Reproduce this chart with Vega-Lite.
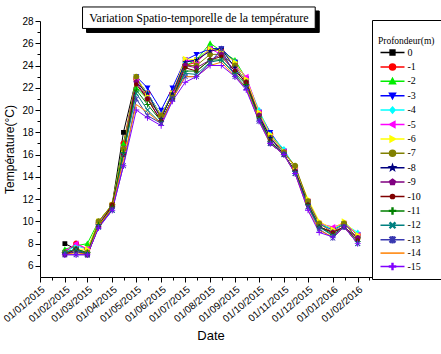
{
"$schema": "https://vega.github.io/schema/vega-lite/v6.json",
"width": 341, "height": 256,
"autosize": {"type": "none"},
"padding": {"left": 40, "top": 21, "right": 60, "bottom": 77},
"background": "white",
"config": {
  "view": {"stroke": null},
  "axis": {"grid": false, "domainColor": "black", "tickColor": "black", "labelColor": "black", "titleColor": "black", "labelFont": "Liberation Sans", "titleFont": "Liberation Sans", "titleFontWeight": "normal"},
  "legend": {"orient": "none", "legendX": 332, "legendY": -1, "padding": 6, "strokeColor": "black", "fillColor": "white",
          "titleFont": "Liberation Serif", "titleFontSize": 9.5, "titleFontWeight": "normal", "titleLineHeight": 10, "titlePadding": 2, "titleColor": "black",
          "labelFont": "Liberation Serif", "labelFontSize": 10, "labelColor": "black", "rowPadding": 2.4, "symbolOffset": 9.5, "labelOffset": 10, "symbolSize": 36}
},
"data": {"values": [
{"d":"2015-02-01","p":"0","t":8.0},{"d":"2015-02-01","p":"-1","t":7.2},{"d":"2015-02-01","p":"-2","t":7.5},{"d":"2015-02-01","p":"-3","t":7.0},{"d":"2015-02-01","p":"-4","t":7.2},{"d":"2015-02-01","p":"-5","t":7.3},{"d":"2015-02-01","p":"-6","t":7.2},{"d":"2015-02-01","p":"-7","t":7.2},{"d":"2015-02-01","p":"-8","t":7.0},{"d":"2015-02-01","p":"-9","t":7.0},{"d":"2015-02-01","p":"-10","t":7.0},{"d":"2015-02-01","p":"-11","t":7.2},{"d":"2015-02-01","p":"-12","t":7.2},{"d":"2015-02-01","p":"-13","t":7.0},{"d":"2015-02-01","p":"-14","t":7.0},{"d":"2015-02-01","p":"-15","t":7.0},
{"d":"2015-02-15","p":"0","t":7.5},{"d":"2015-02-15","p":"-1","t":8.0},{"d":"2015-02-15","p":"-2","t":7.8},{"d":"2015-02-15","p":"-3","t":7.5},{"d":"2015-02-15","p":"-4","t":7.8},{"d":"2015-02-15","p":"-5","t":8.0},{"d":"2015-02-15","p":"-6","t":7.5},{"d":"2015-02-15","p":"-7","t":7.5},{"d":"2015-02-15","p":"-8","t":7.3},{"d":"2015-02-15","p":"-9","t":7.5},{"d":"2015-02-15","p":"-10","t":7.5},{"d":"2015-02-15","p":"-11","t":7.5},{"d":"2015-02-15","p":"-12","t":7.5},{"d":"2015-02-15","p":"-13","t":7.0},{"d":"2015-02-15","p":"-14","t":7.2},{"d":"2015-02-15","p":"-15","t":7.0},
{"d":"2015-03-01","p":"0","t":7.0},{"d":"2015-03-01","p":"-1","t":7.5},{"d":"2015-03-01","p":"-2","t":8.0},{"d":"2015-03-01","p":"-3","t":7.0},{"d":"2015-03-01","p":"-4","t":7.5},{"d":"2015-03-01","p":"-5","t":7.5},{"d":"2015-03-01","p":"-6","t":7.5},{"d":"2015-03-01","p":"-7","t":7.2},{"d":"2015-03-01","p":"-8","t":7.0},{"d":"2015-03-01","p":"-9","t":7.0},{"d":"2015-03-01","p":"-10","t":7.0},{"d":"2015-03-01","p":"-11","t":7.2},{"d":"2015-03-01","p":"-12","t":7.0},{"d":"2015-03-01","p":"-13","t":7.0},{"d":"2015-03-01","p":"-14","t":7.0},{"d":"2015-03-01","p":"-15","t":7.0},
{"d":"2015-03-15","p":"0","t":9.8},{"d":"2015-03-15","p":"-1","t":9.8},{"d":"2015-03-15","p":"-2","t":10.0},{"d":"2015-03-15","p":"-3","t":9.7},{"d":"2015-03-15","p":"-4","t":9.8},{"d":"2015-03-15","p":"-5","t":9.8},{"d":"2015-03-15","p":"-6","t":10.0},{"d":"2015-03-15","p":"-7","t":10.0},{"d":"2015-03-15","p":"-8","t":9.5},{"d":"2015-03-15","p":"-9","t":9.5},{"d":"2015-03-15","p":"-10","t":9.6},{"d":"2015-03-15","p":"-11","t":9.7},{"d":"2015-03-15","p":"-12","t":9.5},{"d":"2015-03-15","p":"-13","t":9.5},{"d":"2015-03-15","p":"-14","t":9.6},{"d":"2015-03-15","p":"-15","t":9.4},
{"d":"2015-04-01","p":"0","t":11.5},{"d":"2015-04-01","p":"-1","t":11.5},{"d":"2015-04-01","p":"-2","t":11.5},{"d":"2015-04-01","p":"-3","t":11.3},{"d":"2015-04-01","p":"-4","t":11.4},{"d":"2015-04-01","p":"-5","t":11.4},{"d":"2015-04-01","p":"-6","t":11.5},{"d":"2015-04-01","p":"-7","t":11.5},{"d":"2015-04-01","p":"-8","t":11.2},{"d":"2015-04-01","p":"-9","t":11.3},{"d":"2015-04-01","p":"-10","t":11.5},{"d":"2015-04-01","p":"-11","t":11.3},{"d":"2015-04-01","p":"-12","t":11.0},{"d":"2015-04-01","p":"-13","t":11.0},{"d":"2015-04-01","p":"-14","t":11.2},{"d":"2015-04-01","p":"-15","t":11.0},
{"d":"2015-04-15","p":"0","t":18.0},{"d":"2015-04-15","p":"-1","t":17.0},{"d":"2015-04-15","p":"-2","t":17.0},{"d":"2015-04-15","p":"-3","t":16.5},{"d":"2015-04-15","p":"-4","t":16.5},{"d":"2015-04-15","p":"-5","t":16.5},{"d":"2015-04-15","p":"-6","t":16.5},{"d":"2015-04-15","p":"-7","t":16.5},{"d":"2015-04-15","p":"-8","t":16.0},{"d":"2015-04-15","p":"-9","t":16.0},{"d":"2015-04-15","p":"-10","t":16.0},{"d":"2015-04-15","p":"-11","t":16.2},{"d":"2015-04-15","p":"-12","t":16.0},{"d":"2015-04-15","p":"-13","t":15.0},{"d":"2015-04-15","p":"-14","t":15.5},{"d":"2015-04-15","p":"-15","t":15.0},
{"d":"2015-05-01","p":"0","t":22.8},{"d":"2015-05-01","p":"-1","t":22.8},{"d":"2015-05-01","p":"-2","t":22.0},{"d":"2015-05-01","p":"-3","t":23.0},{"d":"2015-05-01","p":"-4","t":22.8},{"d":"2015-05-01","p":"-5","t":22.8},{"d":"2015-05-01","p":"-6","t":23.0},{"d":"2015-05-01","p":"-7","t":23.0},{"d":"2015-05-01","p":"-8","t":22.5},{"d":"2015-05-01","p":"-9","t":22.5},{"d":"2015-05-01","p":"-10","t":22.3},{"d":"2015-05-01","p":"-11","t":21.8},{"d":"2015-05-01","p":"-12","t":21.5},{"d":"2015-05-01","p":"-13","t":21.0},{"d":"2015-05-01","p":"-14","t":20.5},{"d":"2015-05-01","p":"-15","t":20.0},
{"d":"2015-05-15","p":"0","t":21.5},{"d":"2015-05-15","p":"-1","t":21.5},{"d":"2015-05-15","p":"-2","t":21.0},{"d":"2015-05-15","p":"-3","t":22.0},{"d":"2015-05-15","p":"-4","t":21.5},{"d":"2015-05-15","p":"-5","t":21.3},{"d":"2015-05-15","p":"-6","t":21.3},{"d":"2015-05-15","p":"-7","t":21.0},{"d":"2015-05-15","p":"-8","t":21.5},{"d":"2015-05-15","p":"-9","t":21.0},{"d":"2015-05-15","p":"-10","t":21.0},{"d":"2015-05-15","p":"-11","t":20.5},{"d":"2015-05-15","p":"-12","t":20.0},{"d":"2015-05-15","p":"-13","t":19.5},{"d":"2015-05-15","p":"-14","t":19.8},{"d":"2015-05-15","p":"-15","t":19.3},
{"d":"2015-06-01","p":"0","t":19.5},{"d":"2015-06-01","p":"-1","t":19.5},{"d":"2015-06-01","p":"-2","t":19.5},{"d":"2015-06-01","p":"-3","t":20.0},{"d":"2015-06-01","p":"-4","t":19.5},{"d":"2015-06-01","p":"-5","t":19.3},{"d":"2015-06-01","p":"-6","t":19.5},{"d":"2015-06-01","p":"-7","t":19.5},{"d":"2015-06-01","p":"-8","t":19.2},{"d":"2015-06-01","p":"-9","t":19.0},{"d":"2015-06-01","p":"-10","t":19.0},{"d":"2015-06-01","p":"-11","t":19.0},{"d":"2015-06-01","p":"-12","t":18.8},{"d":"2015-06-01","p":"-13","t":18.8},{"d":"2015-06-01","p":"-14","t":18.8},{"d":"2015-06-01","p":"-15","t":18.6},
{"d":"2015-06-15","p":"0","t":21.5},{"d":"2015-06-15","p":"-1","t":21.5},{"d":"2015-06-15","p":"-2","t":21.5},{"d":"2015-06-15","p":"-3","t":22.0},{"d":"2015-06-15","p":"-4","t":21.5},{"d":"2015-06-15","p":"-5","t":21.5},{"d":"2015-06-15","p":"-6","t":21.5},{"d":"2015-06-15","p":"-7","t":21.3},{"d":"2015-06-15","p":"-8","t":21.5},{"d":"2015-06-15","p":"-9","t":21.0},{"d":"2015-06-15","p":"-10","t":21.0},{"d":"2015-06-15","p":"-11","t":21.0},{"d":"2015-06-15","p":"-12","t":21.0},{"d":"2015-06-15","p":"-13","t":21.0},{"d":"2015-06-15","p":"-14","t":21.0},{"d":"2015-06-15","p":"-15","t":20.8},
{"d":"2015-07-01","p":"0","t":24.3},{"d":"2015-07-01","p":"-1","t":24.0},{"d":"2015-07-01","p":"-2","t":24.0},{"d":"2015-07-01","p":"-3","t":24.5},{"d":"2015-07-01","p":"-4","t":24.3},{"d":"2015-07-01","p":"-5","t":24.5},{"d":"2015-07-01","p":"-6","t":24.6},{"d":"2015-07-01","p":"-7","t":24.0},{"d":"2015-07-01","p":"-8","t":24.3},{"d":"2015-07-01","p":"-9","t":24.0},{"d":"2015-07-01","p":"-10","t":23.8},{"d":"2015-07-01","p":"-11","t":23.5},{"d":"2015-07-01","p":"-12","t":23.3},{"d":"2015-07-01","p":"-13","t":23.0},{"d":"2015-07-01","p":"-14","t":23.0},{"d":"2015-07-01","p":"-15","t":22.5},
{"d":"2015-07-15","p":"0","t":24.5},{"d":"2015-07-15","p":"-1","t":24.3},{"d":"2015-07-15","p":"-2","t":24.5},{"d":"2015-07-15","p":"-3","t":25.0},{"d":"2015-07-15","p":"-4","t":24.5},{"d":"2015-07-15","p":"-5","t":24.3},{"d":"2015-07-15","p":"-6","t":24.5},{"d":"2015-07-15","p":"-7","t":24.0},{"d":"2015-07-15","p":"-8","t":24.5},{"d":"2015-07-15","p":"-9","t":23.8},{"d":"2015-07-15","p":"-10","t":23.5},{"d":"2015-07-15","p":"-11","t":23.5},{"d":"2015-07-15","p":"-12","t":23.2},{"d":"2015-07-15","p":"-13","t":23.0},{"d":"2015-07-15","p":"-14","t":23.0},{"d":"2015-07-15","p":"-15","t":23.0},
{"d":"2015-08-01","p":"0","t":25.5},{"d":"2015-08-01","p":"-1","t":25.5},{"d":"2015-08-01","p":"-2","t":26.0},{"d":"2015-08-01","p":"-3","t":25.5},{"d":"2015-08-01","p":"-4","t":25.5},{"d":"2015-08-01","p":"-5","t":25.5},{"d":"2015-08-01","p":"-6","t":25.5},{"d":"2015-08-01","p":"-7","t":25.0},{"d":"2015-08-01","p":"-8","t":25.3},{"d":"2015-08-01","p":"-9","t":24.5},{"d":"2015-08-01","p":"-10","t":24.5},{"d":"2015-08-01","p":"-11","t":24.5},{"d":"2015-08-01","p":"-12","t":24.3},{"d":"2015-08-01","p":"-13","t":24.2},{"d":"2015-08-01","p":"-14","t":24.0},{"d":"2015-08-01","p":"-15","t":24.0},
{"d":"2015-08-15","p":"0","t":25.5},{"d":"2015-08-15","p":"-1","t":25.3},{"d":"2015-08-15","p":"-2","t":25.3},{"d":"2015-08-15","p":"-3","t":25.5},{"d":"2015-08-15","p":"-4","t":25.3},{"d":"2015-08-15","p":"-5","t":25.0},{"d":"2015-08-15","p":"-6","t":25.3},{"d":"2015-08-15","p":"-7","t":25.0},{"d":"2015-08-15","p":"-8","t":25.5},{"d":"2015-08-15","p":"-9","t":25.0},{"d":"2015-08-15","p":"-10","t":24.8},{"d":"2015-08-15","p":"-11","t":24.5},{"d":"2015-08-15","p":"-12","t":24.5},{"d":"2015-08-15","p":"-13","t":25.5},{"d":"2015-08-15","p":"-14","t":24.3},{"d":"2015-08-15","p":"-15","t":24.0},
{"d":"2015-09-01","p":"0","t":24.3},{"d":"2015-09-01","p":"-1","t":24.3},{"d":"2015-09-01","p":"-2","t":24.5},{"d":"2015-09-01","p":"-3","t":24.3},{"d":"2015-09-01","p":"-4","t":24.3},{"d":"2015-09-01","p":"-5","t":24.0},{"d":"2015-09-01","p":"-6","t":24.3},{"d":"2015-09-01","p":"-7","t":24.0},{"d":"2015-09-01","p":"-8","t":23.8},{"d":"2015-09-01","p":"-9","t":23.5},{"d":"2015-09-01","p":"-10","t":23.5},{"d":"2015-09-01","p":"-11","t":23.3},{"d":"2015-09-01","p":"-12","t":23.2},{"d":"2015-09-01","p":"-13","t":23.0},{"d":"2015-09-01","p":"-14","t":23.0},{"d":"2015-09-01","p":"-15","t":23.0},
{"d":"2015-09-15","p":"0","t":22.8},{"d":"2015-09-15","p":"-1","t":22.8},{"d":"2015-09-15","p":"-2","t":22.8},{"d":"2015-09-15","p":"-3","t":22.8},{"d":"2015-09-15","p":"-4","t":22.8},{"d":"2015-09-15","p":"-5","t":23.0},{"d":"2015-09-15","p":"-6","t":22.8},{"d":"2015-09-15","p":"-7","t":22.5},{"d":"2015-09-15","p":"-8","t":22.3},{"d":"2015-09-15","p":"-9","t":22.5},{"d":"2015-09-15","p":"-10","t":22.5},{"d":"2015-09-15","p":"-11","t":22.3},{"d":"2015-09-15","p":"-12","t":22.0},{"d":"2015-09-15","p":"-13","t":22.0},{"d":"2015-09-15","p":"-14","t":22.0},{"d":"2015-09-15","p":"-15","t":21.8},
{"d":"2015-10-01","p":"0","t":19.8},{"d":"2015-10-01","p":"-1","t":19.8},{"d":"2015-10-01","p":"-2","t":19.8},{"d":"2015-10-01","p":"-3","t":19.8},{"d":"2015-10-01","p":"-4","t":20.0},{"d":"2015-10-01","p":"-5","t":19.8},{"d":"2015-10-01","p":"-6","t":19.8},{"d":"2015-10-01","p":"-7","t":19.5},{"d":"2015-10-01","p":"-8","t":19.5},{"d":"2015-10-01","p":"-9","t":19.5},{"d":"2015-10-01","p":"-10","t":19.3},{"d":"2015-10-01","p":"-11","t":19.3},{"d":"2015-10-01","p":"-12","t":19.2},{"d":"2015-10-01","p":"-13","t":19.0},{"d":"2015-10-01","p":"-14","t":19.0},{"d":"2015-10-01","p":"-15","t":19.0},
{"d":"2015-10-15","p":"0","t":17.8},{"d":"2015-10-15","p":"-1","t":17.8},{"d":"2015-10-15","p":"-2","t":17.8},{"d":"2015-10-15","p":"-3","t":18.0},{"d":"2015-10-15","p":"-4","t":17.8},{"d":"2015-10-15","p":"-5","t":17.5},{"d":"2015-10-15","p":"-6","t":17.8},{"d":"2015-10-15","p":"-7","t":17.5},{"d":"2015-10-15","p":"-8","t":17.5},{"d":"2015-10-15","p":"-9","t":17.0},{"d":"2015-10-15","p":"-10","t":17.2},{"d":"2015-10-15","p":"-11","t":17.2},{"d":"2015-10-15","p":"-12","t":17.0},{"d":"2015-10-15","p":"-13","t":17.0},{"d":"2015-10-15","p":"-14","t":17.0},{"d":"2015-10-15","p":"-15","t":17.0},
{"d":"2015-11-01","p":"0","t":16.3},{"d":"2015-11-01","p":"-1","t":16.3},{"d":"2015-11-01","p":"-2","t":16.3},{"d":"2015-11-01","p":"-3","t":16.3},{"d":"2015-11-01","p":"-4","t":16.5},{"d":"2015-11-01","p":"-5","t":16.3},{"d":"2015-11-01","p":"-6","t":16.3},{"d":"2015-11-01","p":"-7","t":16.2},{"d":"2015-11-01","p":"-8","t":16.0},{"d":"2015-11-01","p":"-9","t":16.0},{"d":"2015-11-01","p":"-10","t":16.0},{"d":"2015-11-01","p":"-11","t":16.0},{"d":"2015-11-01","p":"-12","t":16.0},{"d":"2015-11-01","p":"-13","t":16.0},{"d":"2015-11-01","p":"-14","t":16.0},{"d":"2015-11-01","p":"-15","t":16.0},
{"d":"2015-11-15","p":"0","t":14.8},{"d":"2015-11-15","p":"-1","t":14.8},{"d":"2015-11-15","p":"-2","t":14.8},{"d":"2015-11-15","p":"-3","t":14.8},{"d":"2015-11-15","p":"-4","t":14.8},{"d":"2015-11-15","p":"-5","t":14.8},{"d":"2015-11-15","p":"-6","t":14.8},{"d":"2015-11-15","p":"-7","t":15.0},{"d":"2015-11-15","p":"-8","t":14.5},{"d":"2015-11-15","p":"-9","t":14.5},{"d":"2015-11-15","p":"-10","t":14.5},{"d":"2015-11-15","p":"-11","t":14.5},{"d":"2015-11-15","p":"-12","t":14.3},{"d":"2015-11-15","p":"-13","t":14.3},{"d":"2015-11-15","p":"-14","t":14.3},{"d":"2015-11-15","p":"-15","t":14.3},
{"d":"2015-12-01","p":"0","t":11.8},{"d":"2015-12-01","p":"-1","t":11.8},{"d":"2015-12-01","p":"-2","t":11.8},{"d":"2015-12-01","p":"-3","t":11.8},{"d":"2015-12-01","p":"-4","t":11.8},{"d":"2015-12-01","p":"-5","t":11.8},{"d":"2015-12-01","p":"-6","t":12.0},{"d":"2015-12-01","p":"-7","t":11.8},{"d":"2015-12-01","p":"-8","t":11.5},{"d":"2015-12-01","p":"-9","t":11.5},{"d":"2015-12-01","p":"-10","t":11.5},{"d":"2015-12-01","p":"-11","t":11.5},{"d":"2015-12-01","p":"-12","t":11.3},{"d":"2015-12-01","p":"-13","t":11.3},{"d":"2015-12-01","p":"-14","t":11.0},{"d":"2015-12-01","p":"-15","t":11.0},
{"d":"2015-12-15","p":"0","t":9.8},{"d":"2015-12-15","p":"-1","t":9.8},{"d":"2015-12-15","p":"-2","t":9.8},{"d":"2015-12-15","p":"-3","t":9.8},{"d":"2015-12-15","p":"-4","t":9.8},{"d":"2015-12-15","p":"-5","t":9.8},{"d":"2015-12-15","p":"-6","t":10.0},{"d":"2015-12-15","p":"-7","t":9.8},{"d":"2015-12-15","p":"-8","t":9.5},{"d":"2015-12-15","p":"-9","t":9.5},{"d":"2015-12-15","p":"-10","t":9.5},{"d":"2015-12-15","p":"-11","t":9.5},{"d":"2015-12-15","p":"-12","t":9.5},{"d":"2015-12-15","p":"-13","t":9.3},{"d":"2015-12-15","p":"-14","t":9.2},{"d":"2015-12-15","p":"-15","t":9.0},
{"d":"2016-01-01","p":"0","t":9.3},{"d":"2016-01-01","p":"-1","t":9.3},{"d":"2016-01-01","p":"-2","t":9.3},{"d":"2016-01-01","p":"-3","t":9.2},{"d":"2016-01-01","p":"-4","t":9.3},{"d":"2016-01-01","p":"-5","t":9.5},{"d":"2016-01-01","p":"-6","t":9.3},{"d":"2016-01-01","p":"-7","t":9.0},{"d":"2016-01-01","p":"-8","t":9.0},{"d":"2016-01-01","p":"-9","t":9.0},{"d":"2016-01-01","p":"-10","t":9.0},{"d":"2016-01-01","p":"-11","t":8.8},{"d":"2016-01-01","p":"-12","t":8.7},{"d":"2016-01-01","p":"-13","t":8.5},{"d":"2016-01-01","p":"-14","t":8.6},{"d":"2016-01-01","p":"-15","t":8.6},
{"d":"2016-01-15","p":"0","t":9.8},{"d":"2016-01-15","p":"-1","t":9.8},{"d":"2016-01-15","p":"-2","t":9.8},{"d":"2016-01-15","p":"-3","t":9.8},{"d":"2016-01-15","p":"-4","t":9.8},{"d":"2016-01-15","p":"-5","t":9.8},{"d":"2016-01-15","p":"-6","t":10.0},{"d":"2016-01-15","p":"-7","t":9.8},{"d":"2016-01-15","p":"-8","t":9.5},{"d":"2016-01-15","p":"-9","t":9.5},{"d":"2016-01-15","p":"-10","t":9.5},{"d":"2016-01-15","p":"-11","t":9.5},{"d":"2016-01-15","p":"-12","t":9.5},{"d":"2016-01-15","p":"-13","t":9.5},{"d":"2016-01-15","p":"-14","t":9.5},{"d":"2016-01-15","p":"-15","t":9.5},
{"d":"2016-02-01","p":"0","t":8.8},{"d":"2016-02-01","p":"-1","t":8.8},{"d":"2016-02-01","p":"-2","t":8.8},{"d":"2016-02-01","p":"-3","t":8.8},{"d":"2016-02-01","p":"-4","t":9.0},{"d":"2016-02-01","p":"-5","t":8.8},{"d":"2016-02-01","p":"-6","t":8.8},{"d":"2016-02-01","p":"-7","t":8.5},{"d":"2016-02-01","p":"-8","t":8.5},{"d":"2016-02-01","p":"-9","t":8.5},{"d":"2016-02-01","p":"-10","t":8.3},{"d":"2016-02-01","p":"-11","t":8.2},{"d":"2016-02-01","p":"-12","t":8.0},{"d":"2016-02-01","p":"-13","t":8.0},{"d":"2016-02-01","p":"-14","t":8.0},{"d":"2016-02-01","p":"-15","t":8.0}
]},
"layer": [
  {
    "mark": {"type": "line", "strokeWidth": 1},
    "encoding": {
      "x": {"field": "d", "type": "temporal",
        "scale": {"type": "utc", "domain": [{"year":2015,"month":1,"date":1,"utc":true},{"year":2016,"month":3,"date":1,"utc":true}], "nice": false},
        "axis": {"title": "Date", "titleFontSize": 13, "titlePadding": 6, "format": "%d/%m/%Y", "labelAngle": -40, "labelFontSize": 10, "labelOverlap": false, "labelPadding": 2, "tickSize": 5, "labelFlush": false,
          "values": [{"year":2015,"month":1,"date":1,"utc":true},{"year":2015,"month":2,"date":1,"utc":true},{"year":2015,"month":3,"date":1,"utc":true},{"year":2015,"month":4,"date":1,"utc":true},{"year":2015,"month":5,"date":1,"utc":true},{"year":2015,"month":6,"date":1,"utc":true},{"year":2015,"month":7,"date":1,"utc":true},{"year":2015,"month":8,"date":1,"utc":true},{"year":2015,"month":9,"date":1,"utc":true},{"year":2015,"month":10,"date":1,"utc":true},{"year":2015,"month":11,"date":1,"utc":true},{"year":2015,"month":12,"date":1,"utc":true},{"year":2016,"month":1,"date":1,"utc":true},{"year":2016,"month":2,"date":1,"utc":true}]}},
      "y": {"field": "t", "type": "quantitative",
        "scale": {"domain": [5, 28], "nice": false, "zero": false},
        "axis": {"title": "Température(°C)", "titleFontSize": 12, "titlePadding": 5, "labelFontSize": 10, "tickSize": 5, "labelPadding": 2, "values": [6,8,10,12,14,16,18,20,22,24,26,28]}},
      "color": {"field": "p", "type": "nominal", "title": ["", "Profondeur(m)"],
        "scale": {"domain": ["0","-1","-2","-3","-4","-5","-6","-7","-8","-9","-10","-11","-12","-13","-14","-15"],
                  "range": ["#000000","#FF0000","#00EE00","#0000FF","#00FFFF","#FF00FF","#FFFF00","#808000","#000080","#800080","#800000","#008000","#008080","#3838B0","#FF8000","#8000FF"]},
        "legend": {"labelFont": "Liberation Serif", "titleFont": "Liberation Serif"}}
    }
  },
  {
    "mark": {"type": "point", "filled": true, "size": 36, "opacity": 1},
    "encoding": {
      "x": {"field": "d", "type": "temporal",
        "axis": {"title": null, "labels": false, "domain": false, "tickSize": 3, "orient": "bottom",
          "values": [{"year":2015,"month":1,"date":16,"utc":true},{"year":2015,"month":2,"date":15,"utc":true},{"year":2015,"month":3,"date":16,"utc":true},{"year":2015,"month":4,"date":16,"utc":true},{"year":2015,"month":5,"date":16,"utc":true},{"year":2015,"month":6,"date":16,"utc":true},{"year":2015,"month":7,"date":16,"utc":true},{"year":2015,"month":8,"date":16,"utc":true},{"year":2015,"month":9,"date":16,"utc":true},{"year":2015,"month":10,"date":16,"utc":true},{"year":2015,"month":11,"date":16,"utc":true},{"year":2015,"month":12,"date":16,"utc":true},{"year":2016,"month":1,"date":16,"utc":true},{"year":2016,"month":2,"date":15,"utc":true}]}},
      "y": {"field": "t", "type": "quantitative",
        "axis": {"title": null, "labels": false, "domain": false, "tickSize": 3, "orient": "left", "values": [7,9,11,13,15,17,19,21,23,25,27]}},
      "color": {"field": "p", "type": "nominal", "title": ["", "Profondeur(m)"],
        "legend": {"labelFont": "Liberation Serif", "titleFont": "Liberation Serif", "encode": {"symbols": {"update": {"stroke": {"scale": "color", "field": "value"}, "strokeWidth": {"value": 1}}}}}},
      "shape": {"field": "p", "type": "nominal", "title": ["", "Profondeur(m)"],
        "scale": {"domain": ["0","-1","-2","-3","-4","-5","-6","-7","-8","-9","-10","-11","-12","-13","-14","-15"],
          "range": [
            "M-4,0H4M-0.8,-0.8H0.8V0.8H-0.8Z",
            "M-4,0H4M-1,0A1,1,0,1,1,1,0A1,1,0,1,1,-1,0Z",
            "M-4,0H4M0,-1L1,0.8H-1Z",
            "M-4,0H4M0,1L1,-0.8H-1Z",
            "M-4,0H4M0,-1L0.85,0L0,1L-0.85,0Z",
            "M-4,0H4M-1,0L0.8,-1V1Z",
            "M-4,0H4M1,0L-0.8,-1V1Z",
            "M-4,0H4M-1,0A1,1,0,1,1,1,0A1,1,0,1,1,-1,0Z",
            "M-4,0H4M0,-1L0.235,-0.324L0.951,-0.309L0.38,0.124L0.588,0.809L0,0.4L-0.588,0.809L-0.38,0.124L-0.951,-0.309L-0.235,-0.324Z",
            "M-4,0H4M0,-1L0.951,-0.309L0.588,0.809L-0.588,0.809L-0.951,-0.309Z",
            "M-4,0H4M-0.7,0A0.7,0.7,0,1,1,0.7,0A0.7,0.7,0,1,1,-0.7,0Z",
            "M-4,0H4M-0.15,-1H0.15V-0.15H1V0.15H0.15V1H-0.15V0.15H-1V-0.15H-0.15Z",
            "M-4,0H4M-0.694,-0.906L0.906,0.694L0.694,0.906L-0.906,-0.694ZM-0.694,0.906L-0.906,0.694L0.694,-0.906L0.906,-0.694Z",
            "M-4,0H4M-0.694,-0.906L0.906,0.694L0.694,0.906L-0.906,-0.694ZM-0.694,0.906L-0.906,0.694L0.694,-0.906L0.906,-0.694ZM-0.12,-1H0.12V1H-0.12Z",
            "M-4,0H4",
            "M-4,0H4M-0.15,-1H0.15V-0.15H1V0.15H0.15V1H-0.15V0.15H-1V-0.15H-0.15Z"
          ]},
        "legend": {"labelFont": "Liberation Serif", "titleFont": "Liberation Serif", "encode": {"symbols": {"update": {"stroke": {"scale": "color", "field": "value"}, "strokeWidth": {"value": 1}}}}}}
    }
  },
  {
    "data": {"values": [{}]},
    "mark": {"type": "rect", "fill": "black", "stroke": "black", "strokeWidth": 1},
    "encoding": {
      "x": {"datum": {"year":2015,"month":2,"date":28,"utc":true}, "type": "temporal", "axis": null},
      "x2": {"datum": {"year":2015,"month":12,"date":15,"utc":true}},
      "y": {"datum": 28.9, "type": "quantitative", "axis": null},
      "y2": {"datum": 26.97}
    }
  },
  {
    "data": {"values": [{}]},
    "mark": {"type": "rect", "fill": "white", "stroke": "black", "strokeWidth": 1},
    "encoding": {
      "x": {"datum": {"year":2015,"month":2,"date":23,"utc":true}, "type": "temporal", "axis": null},
      "x2": {"datum": {"year":2015,"month":12,"date":10,"utc":true}},
      "y": {"datum": 29.26, "type": "quantitative", "axis": null},
      "y2": {"datum": 27.33}
    }
  },
  {
    "data": {"values": [{}]},
    "mark": {"type": "text", "text": "Variation Spatio-temporelle de la température", "font": "Liberation Serif", "fontSize": 12, "align": "center", "baseline": "middle", "color": "black"},
    "encoding": {
      "x": {"datum": {"year":2015,"month":7,"date":18,"utc":true}, "type": "temporal", "axis": null},
      "y": {"datum": 28.3, "type": "quantitative", "axis": null}
    }
  }
],
"resolve": {"axis": {"x": "independent", "y": "independent"}}
}
